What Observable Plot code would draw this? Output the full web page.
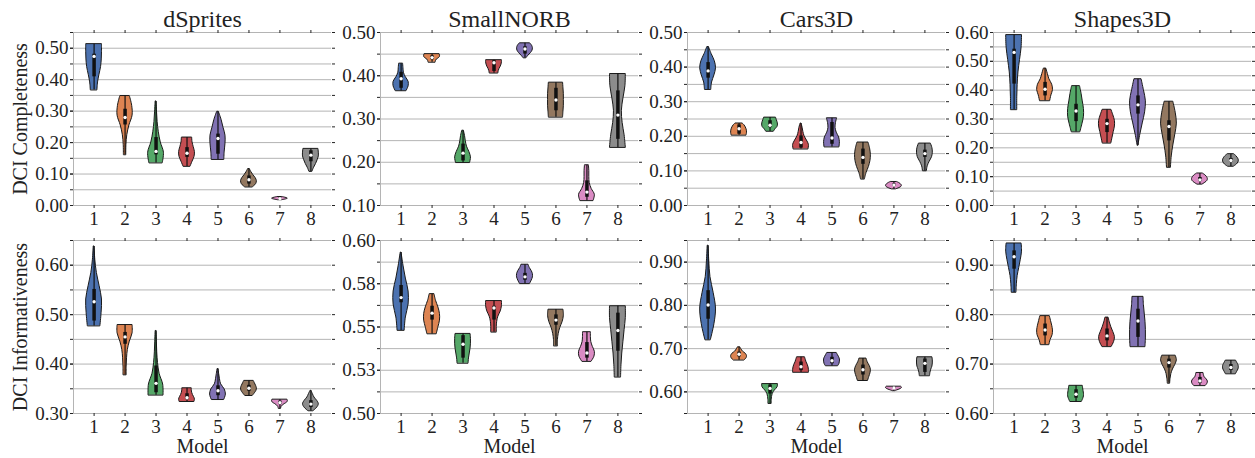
<!DOCTYPE html>
<html>
<head>
<meta charset="utf-8">
<script src="https://cdn.jsdelivr.net/npm/d3@7"></script>
<script src="https://cdn.jsdelivr.net/npm/@observablehq/plot@0.6"></script>
<style>
  html, body { margin: 0; padding: 0; background: #fff; overflow: hidden; }
  #chart { position: relative; width: 1255px; height: 458px; background: #fff; }
  #chart svg { position: absolute; overflow: visible; }
</style>
</head>
<body>
<div id="chart"></div>
<script>
// ---------- categories & labels ----------
const models = [1, 2, 3, 4, 5, 6, 7, 8];
const palette = ["#4C72B0", "#DD8452", "#55A868", "#C44E52", "#8172B3", "#937860", "#DA8BC3", "#8C8C8C"];
const datasets = ["dSprites", "SmallNORB", "Cars3D", "Shapes3D"];
const metrics = ["DCI Completeness", "DCI Informativeness"];
const xLabel = "Model";

// ---------- y axes (panel order: row 1 left→right, then row 2) ----------
const yDomains = [[0, 0.55], [0.1, 0.5], [0, 0.5], [0, 0.6], [0.3, 0.65], [0.5, 0.6], [0.55, 0.95], [0.6, 0.95]];
const yGridSteps = [0.05, 0.05, 0.05, 0.05, 0.05, 0.0125, 0.05, 0.05];
const yMajorTicks = [
  [0, 0.1, 0.2, 0.3, 0.4, 0.5],
  [0.1, 0.2, 0.3, 0.4, 0.5],
  [0, 0.1, 0.2, 0.3, 0.4, 0.5],
  [0, 0.1, 0.2, 0.3, 0.4, 0.5, 0.6],
  [0.3, 0.4, 0.5, 0.6],
  [0.5, 0.525, 0.55, 0.575, 0.6],
  [0.6, 0.7, 0.8, 0.9],
  [0.6, 0.7, 0.8, 0.9]
];
const yTickLabels = [
  ["0.00", "0.10", "0.20", "0.30", "0.40", "0.50"],
  ["0.10", "0.20", "0.30", "0.40", "0.50"],
  ["0.00", "0.10", "0.20", "0.30", "0.40", "0.50"],
  ["0.00", "0.10", "0.20", "0.30", "0.40", "0.50", "0.60"],
  ["0.30", "0.40", "0.50", "0.60"],
  ["0.50", "0.53", "0.55", "0.58", "0.60"],
  ["0.60", "0.70", "0.80", "0.90"],
  ["0.60", "0.70", "0.80", "0.90"]
];

// ---------- violin summaries: [min, q1, median, q3, max] per model ----------
// ---------- shapes: relative half-widths at 7 even levels from min to max ----------
const statsCompDSprites = [
  [0.367, 0.409, 0.474, 0.481, 0.513], [0.161, 0.256, 0.280, 0.306, 0.348],
  [0.135, 0.161, 0.172, 0.216, 0.331], [0.124, 0.153, 0.166, 0.184, 0.216],
  [0.146, 0.163, 0.213, 0.227, 0.298], [0.058, 0.068, 0.082, 0.094, 0.116],
  [0.017, 0.020, 0.022, 0.024, 0.027], [0.108, 0.139, 0.160, 0.174, 0.180]
];
const shapeCompDSprites = [
  [0.42, 0.5, 0.68, 0.88, 0.97, 1.0, 1.0], [0.15, 0.17, 0.28, 0.55, 0.95, 0.9, 0.6],
  [0.85, 1.0, 0.6, 0.35, 0.2, 0.12, 0.05], [0.45, 0.7, 0.95, 1.0, 0.85, 0.7, 0.65],
  [0.8, 0.85, 0.95, 0.95, 0.7, 0.45, 0.1], [0.5, 0.9, 1.0, 0.85, 0.55, 0.3, 0.1],
  [0.3, 0.65, 0.9, 1.0, 0.85, 0.6, 0.3], [0.2, 0.4, 0.65, 0.85, 1.0, 1.0, 0.95]
];
const statsCompSmallNORB = [
  [0.365, 0.371, 0.393, 0.408, 0.428], [0.431, 0.437, 0.442, 0.446, 0.450],
  [0.199, 0.203, 0.221, 0.242, 0.273], [0.406, 0.410, 0.430, 0.435, 0.436],
  [0.441, 0.450, 0.462, 0.467, 0.475], [0.304, 0.319, 0.344, 0.371, 0.384],
  [0.111, 0.119, 0.131, 0.157, 0.193], [0.234, 0.253, 0.309, 0.365, 0.404]
];
const shapeCompSmallNORB = [
  [0.7, 0.95, 0.95, 0.6, 0.35, 0.3, 0.25], [0.45, 0.5, 0.6, 0.85, 1.0, 1.0, 0.95],
  [0.9, 1.0, 0.8, 0.5, 0.35, 0.25, 0.1], [0.55, 0.6, 0.7, 0.85, 0.95, 1.0, 1.0],
  [0.2, 0.45, 0.75, 0.95, 1.0, 0.9, 0.65], [0.9, 0.95, 1.0, 1.0, 1.0, 0.95, 0.9],
  [0.85, 1.0, 0.6, 0.35, 0.3, 0.3, 0.25], [1.0, 0.85, 0.6, 0.5, 0.7, 0.95, 1.0]
];
const statsCompCars3D = [
  [0.335, 0.368, 0.389, 0.413, 0.458], [0.203, 0.206, 0.222, 0.233, 0.237],
  [0.214, 0.225, 0.232, 0.245, 0.254], [0.163, 0.166, 0.182, 0.201, 0.237],
  [0.169, 0.177, 0.195, 0.240, 0.252], [0.076, 0.119, 0.139, 0.163, 0.182],
  [0.047, 0.055, 0.059, 0.062, 0.068], [0.100, 0.139, 0.150, 0.160, 0.179]
];
const shapeCompCars3D = [
  [0.4, 0.5, 0.8, 1.0, 0.85, 0.45, 0.1], [0.95, 1.0, 1.0, 0.95, 0.85, 0.7, 0.45],
  [0.5, 0.7, 0.95, 1.0, 0.95, 0.85, 0.75], [0.95, 1.0, 0.75, 0.45, 0.3, 0.2, 0.05],
  [0.95, 1.0, 0.9, 0.6, 0.45, 0.5, 0.65], [0.25, 0.45, 0.75, 0.95, 1.0, 0.9, 0.7],
  [0.3, 0.7, 0.95, 1.0, 0.9, 0.7, 0.4], [0.25, 0.35, 0.6, 0.9, 1.0, 0.95, 0.75]
];
const statsCompShapes3D = [
  [0.332, 0.421, 0.531, 0.542, 0.591], [0.363, 0.380, 0.403, 0.427, 0.475],
  [0.255, 0.291, 0.328, 0.351, 0.414], [0.216, 0.253, 0.284, 0.299, 0.332],
  [0.208, 0.317, 0.349, 0.380, 0.438], [0.132, 0.224, 0.274, 0.294, 0.360],
  [0.073, 0.083, 0.089, 0.097, 0.111], [0.135, 0.150, 0.156, 0.163, 0.178]
];
const shapeCompShapes3D = [
  [0.4, 0.4, 0.45, 0.55, 0.75, 0.95, 1.0], [0.65, 0.8, 1.0, 0.9, 0.55, 0.35, 0.15],
  [0.55, 0.8, 1.0, 1.0, 0.85, 0.7, 0.5], [0.55, 0.7, 0.85, 1.0, 1.0, 0.8, 0.55],
  [0.05, 0.3, 0.6, 0.9, 1.0, 0.75, 0.45], [0.25, 0.35, 0.55, 0.8, 1.0, 0.85, 0.55],
  [0.35, 0.7, 0.95, 1.0, 0.9, 0.7, 0.35], [0.4, 0.75, 0.95, 1.0, 0.9, 0.7, 0.4]
];
const statsInfoDSprites = [
  [0.477, 0.487, 0.526, 0.551, 0.638], [0.378, 0.440, 0.455, 0.464, 0.479],
  [0.337, 0.342, 0.361, 0.396, 0.467], [0.324, 0.328, 0.332, 0.340, 0.351],
  [0.328, 0.336, 0.346, 0.356, 0.390], [0.336, 0.345, 0.351, 0.357, 0.366],
  [0.310, 0.318, 0.322, 0.325, 0.328], [0.305, 0.312, 0.319, 0.326, 0.346]
];
const shapeInfoDSprites = [
  [0.8, 0.95, 1.0, 0.7, 0.35, 0.15, 0.05], [0.2, 0.2, 0.25, 0.35, 0.6, 0.95, 0.95],
  [0.95, 0.9, 0.45, 0.25, 0.15, 0.1, 0.05], [0.95, 1.0, 0.9, 0.75, 0.65, 0.6, 0.6],
  [0.8, 1.0, 0.85, 0.4, 0.25, 0.15, 0.05], [0.5, 0.75, 0.95, 1.0, 0.9, 0.75, 0.6],
  [0.15, 0.2, 0.35, 0.6, 0.9, 1.0, 0.95], [0.35, 0.8, 1.0, 0.8, 0.45, 0.25, 0.05]
];
const statsInfoSmallNORB = [
  [0.548, 0.564, 0.567, 0.574, 0.593], [0.546, 0.554, 0.558, 0.562, 0.569],
  [0.529, 0.532, 0.540, 0.545, 0.546], [0.547, 0.554, 0.561, 0.562, 0.565],
  [0.575, 0.577, 0.579, 0.581, 0.586], [0.539, 0.551, 0.554, 0.557, 0.560],
  [0.530, 0.532, 0.535, 0.541, 0.547], [0.521, 0.536, 0.548, 0.558, 0.562]
];
const shapeInfoSmallNORB = [
  [0.45, 0.6, 0.95, 0.95, 0.6, 0.3, 0.05], [0.6, 0.8, 1.0, 1.0, 0.8, 0.5, 0.3],
  [0.7, 0.75, 0.85, 0.95, 1.0, 1.0, 0.95], [0.35, 0.35, 0.4, 0.55, 0.85, 1.0, 1.0],
  [0.65, 0.85, 1.0, 1.0, 0.85, 0.6, 0.45], [0.25, 0.25, 0.35, 0.55, 0.85, 1.0, 0.95],
  [0.6, 0.95, 1.0, 0.75, 0.55, 0.5, 0.5], [0.4, 0.45, 0.55, 0.7, 0.85, 1.0, 1.0]
];
const statsInfoCars3D = [
  [0.720, 0.768, 0.801, 0.834, 0.938], [0.673, 0.681, 0.687, 0.692, 0.703],
  [0.573, 0.595, 0.608, 0.616, 0.618], [0.645, 0.649, 0.658, 0.669, 0.680],
  [0.660, 0.665, 0.672, 0.680, 0.690], [0.626, 0.639, 0.651, 0.662, 0.677],
  [0.602, 0.607, 0.609, 0.611, 0.612], [0.637, 0.645, 0.666, 0.676, 0.680]
];
const shapeInfoCars3D = [
  [0.35, 0.8, 1.0, 0.7, 0.3, 0.15, 0.05], [0.7, 0.95, 1.0, 0.85, 0.5, 0.3, 0.15],
  [0.2, 0.2, 0.25, 0.35, 0.6, 0.95, 1.0], [1.0, 1.0, 0.95, 0.85, 0.7, 0.6, 0.5],
  [0.8, 0.95, 1.0, 1.0, 0.9, 0.75, 0.6], [0.65, 0.8, 0.95, 1.0, 0.85, 0.6, 0.45],
  [0.2, 0.45, 0.7, 0.9, 1.0, 1.0, 0.9], [0.65, 0.7, 0.8, 0.95, 1.0, 1.0, 0.95]
];
const statsInfoShapes3D = [
  [0.845, 0.892, 0.917, 0.929, 0.944], [0.739, 0.757, 0.769, 0.781, 0.797],
  [0.624, 0.631, 0.639, 0.648, 0.656], [0.735, 0.747, 0.757, 0.771, 0.794],
  [0.735, 0.754, 0.787, 0.811, 0.836], [0.661, 0.692, 0.703, 0.710, 0.717],
  [0.656, 0.661, 0.666, 0.673, 0.682], [0.680, 0.687, 0.693, 0.699, 0.707]
];
const shapeInfoShapes3D = [
  [0.3, 0.35, 0.45, 0.65, 0.85, 1.0, 0.95], [0.55, 0.7, 0.95, 1.0, 0.9, 0.75, 0.6],
  [0.75, 0.9, 1.0, 1.0, 0.95, 0.9, 0.85], [0.6, 0.9, 1.0, 0.8, 0.55, 0.35, 0.2],
  [0.95, 1.0, 1.0, 0.95, 0.85, 0.75, 0.7], [0.15, 0.2, 0.3, 0.5, 0.8, 1.0, 0.85],
  [0.75, 0.95, 1.0, 0.85, 0.6, 0.5, 0.45], [0.65, 0.8, 0.95, 1.0, 0.95, 0.8, 0.65]
];

const panelStats = [statsCompDSprites, statsCompSmallNORB, statsCompCars3D, statsCompShapes3D,
                    statsInfoDSprites, statsInfoSmallNORB, statsInfoCars3D, statsInfoShapes3D];
const panelShapes = [shapeCompDSprites, shapeCompSmallNORB, shapeCompCars3D, shapeCompShapes3D,
                     shapeInfoDSprites, shapeInfoSmallNORB, shapeInfoCars3D, shapeInfoShapes3D];

// ---------- layout ----------
const frameLefts = [73, 380, 687, 993];
const frameTops = [32, 240];
const frameW = 258, frameH = 173;
const mL = 73, mR = 4, mT = 32, mB = 45;
const xDomain = [0.335, 8.665];
const halfWidth = 0.255;
const FONT = "'Liberation Serif', 'Times New Roman', serif";
const gridColor = "#b4b4b4";
const ink = "#222";

const chart = document.getElementById("chart");

function makePanel(p) {
  const row = Math.floor(p / 4), col = p % 4;
  const stats = panelStats[p], shapes = panelShapes[p];
  const [y0, y1] = yDomains[p];
  const step = yGridSteps[p];
  const grid = d3.range(Math.round((y1 - y0) / step) + 1).map(k => +(y0 + k * step).toFixed(5));
  const majors = yMajorTicks[p], labels = yTickLabels[p];
  const fmt = d => { const i = majors.findIndex(t => Math.abs(t - d) < 1e-9); return i >= 0 ? labels[i] : ""; };

  const area = [];
  stats.forEach((s, i) => {
    const lo = s[0], hi = s[4], w = shapes[i];
    w.forEach((v, k) => area.push({
      m: models[i],
      y: lo + (hi - lo) * k / (w.length - 1),
      x1: models[i] - v * halfWidth,
      x2: models[i] + v * halfWidth
    }));
  });
  const box = stats.map((s, i) => ({m: models[i], lo: s[0], q1: s[1], med: s[2], q3: s[3], hi: s[4]}));

  const marks = [
    Plot.ruleY(grid, {stroke: gridColor, strokeWidth: 1}),
    Plot.ruleX([xDomain[0]], {stroke: gridColor, strokeWidth: 1}),
    Plot.ruleY([y0], {stroke: gridColor, strokeWidth: 1}),
    Plot.axisY({anchor: "left", ticks: grid, tickSize: 3, tickFormat: () => "", label: null, stroke: ink}),
    Plot.axisY({anchor: "left", ticks: majors, tickSize: 3, tickPadding: 2, tickFormat: fmt, label: null, fontSize: 19, fill: ink, stroke: ink}),
    Plot.axisY({anchor: "right", ticks: grid, tickSize: 3, tickFormat: () => "", label: null, stroke: ink}),
    Plot.axisX({anchor: "top", ticks: models, tickSize: 3, tickFormat: () => "", label: null, stroke: ink}),
    Plot.axisX({anchor: "bottom", ticks: models, tickSize: 3, tickPadding: 3, tickFormat: d => String(d), label: null, fontSize: 19, fill: ink, stroke: ink}),
    Plot.areaX(area, {x1: "x1", x2: "x2", y: "y", z: "m", fill: "m", stroke: "#1a1a1a", strokeWidth: 1, curve: "catmull-rom"}),
    Plot.ruleX(box, {x: "m", y1: "lo", y2: "hi", stroke: "#111", strokeWidth: 1.2}),
    Plot.ruleX(box, {x: "m", y1: "q1", y2: "q3", stroke: "#111", strokeWidth: 3.5}),
    Plot.dot(box, {x: "m", y: "med", r: 1.7, fill: "white", stroke: null})
  ];
  if (row === 0) {
    marks.push(Plot.text([datasets[col]], {frameAnchor: "top", dy: -12.7, fontSize: 24, textAnchor: "middle", lineAnchor: "middle", fill: ink}));
  } else {
    marks.push(Plot.text([xLabel], {frameAnchor: "bottom", dy: 33.5, fontSize: 20, textAnchor: "middle", lineAnchor: "middle", fill: ink}));
  }
  if (col === 0) {
    marks.push(Plot.text([metrics[row]], {frameAnchor: "left", dx: -52.5, rotate: -90, fontSize: 20, textAnchor: "middle", lineAnchor: "middle", fill: ink}));
  }

  const svg = Plot.plot({
    width: mL + frameW + mR,
    height: mT + frameH + mB,
    marginLeft: mL, marginRight: mR, marginTop: mT, marginBottom: mB,
    x: {type: "linear", domain: xDomain},
    y: {type: "linear", domain: [y0, y1]},
    color: {domain: models, range: palette},
    style: {fontFamily: FONT, fontSize: "19px", color: ink, background: "transparent", overflow: "visible"},
    marks
  });
  svg.style.left = (frameLefts[col] - mL) + "px";
  svg.style.top = (frameTops[row] - mT) + "px";
  chart.appendChild(svg);
}

for (let p = 0; p < 8; p++) makePanel(p);
</script>
</body>
</html>
